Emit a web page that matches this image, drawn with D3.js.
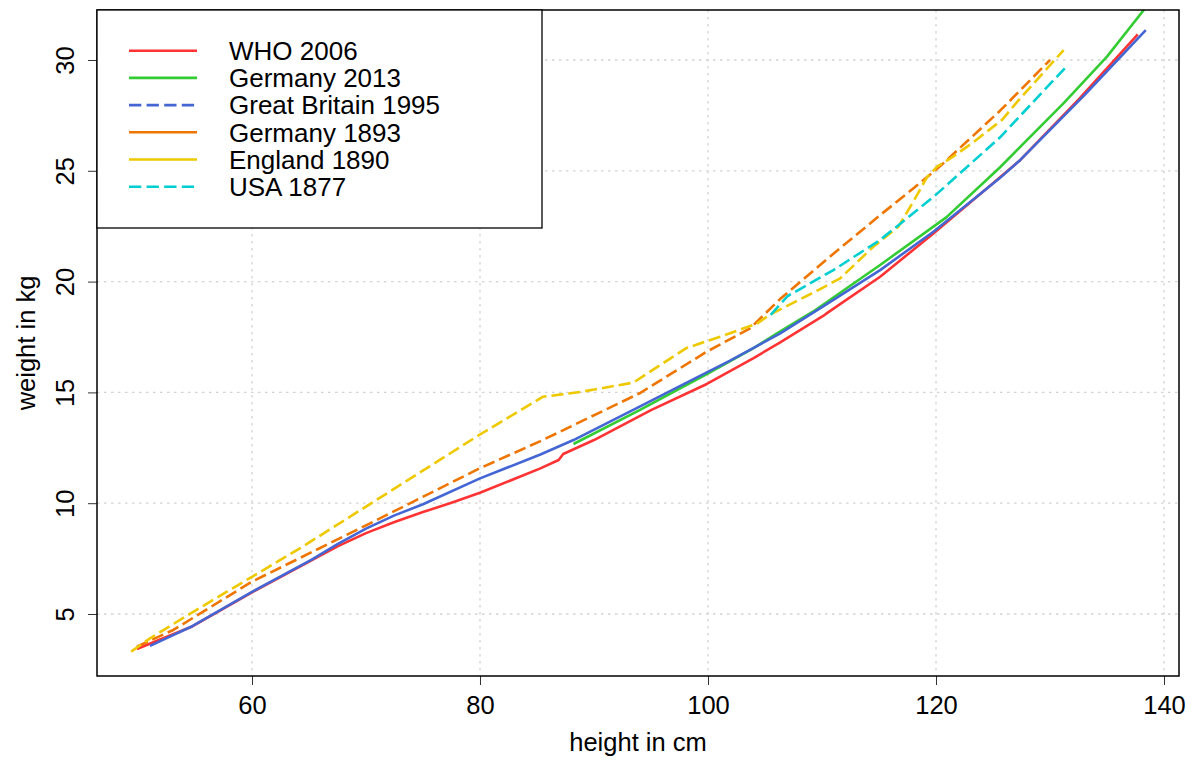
<!DOCTYPE html>
<html>
<head>
<meta charset="utf-8">
<script src="https://cdn.jsdelivr.net/npm/d3@7"></script>
<style>
    body { margin: 0; background: #fff; }
    text { font-family: "Liberation Sans", Arial, sans-serif; fill: #000; }
</style>
</head>
<body>
<svg id="chart" width="1192" height="760"></svg>
<script>
// growth reference curves, weight (kg) against height (cm)
const whoHeight = [49.9, 54.8, 60, 65.3, 67.5, 70, 72.5, 75, 77.5, 80, 85.3, 86.9, 87.3, 90, 95, 99.9, 104, 106.3, 110.1, 110.5, 115.1, 119.8, 125, 127.4, 132.6, 137.7];
const whoWeight = [3.42, 4.45, 5.98, 7.44, 8.05, 8.65, 9.15, 9.6, 10.02, 10.47, 11.57, 11.95, 12.22, 12.85, 14.2, 15.38, 16.55, 17.25, 18.45, 18.6, 20.22, 22.18, 24.44, 25.49, 28.27, 31.16];

const ger2013Height = [88.2, 94, 99.9, 104, 106.3, 109.2, 115.1, 120.9, 125.6, 131.2, 135, 138.6];
const ger2013Weight = [12.67, 14.2, 15.83, 17.0, 17.74, 18.64, 20.75, 22.9, 25.15, 28.05, 30.15, 32.5];

const gb1995Height = [51.05, 54.8, 60, 65.2, 67.5, 70, 72.5, 75, 80, 85.3, 88.2, 94, 99.9, 101.9, 106.3, 110, 115.1, 119.8, 125.6, 127.4, 133, 138.4];
const gb1995Weight = [3.56, 4.46, 6.0, 7.44, 8.15, 8.85, 9.45, 9.95, 11.12, 12.2, 12.85, 14.36, 15.9, 16.42, 17.65, 18.85, 20.52, 22.26, 24.67, 25.49, 28.4, 31.35];

const ger1893Height = [49.9, 53.1, 60, 70, 80, 85.3, 94, 99.9, 103.7, 106.3, 110.4, 115.1, 118, 120.35, 125.6, 130];
const ger1893Weight = [3.52, 4.28, 6.46, 9.0, 11.58, 12.8, 14.96, 16.84, 17.89, 19.2, 21.0, 23.0, 24.2, 25.2, 27.7, 30.0];

const eng1890Height = [49.4, 51.05, 54.85, 60, 64.2, 80, 85.5, 88.8, 93.45, 98.1, 101, 104.3, 105.4, 109.8, 111.6, 114.5, 116.7, 118, 119.2, 120.1, 121.5, 123.3, 125.8, 127.1, 131.2];
const eng1890Weight = [3.3, 3.9, 5.1, 6.68, 7.96, 13.1, 14.8, 15.02, 15.44, 17.0, 17.5, 18.1, 18.5, 19.65, 20.15, 21.57, 22.48, 23.6, 24.7, 25.19, 25.64, 26.3, 27.3, 28.1, 30.45];

const usa1877Height = [105.5, 107, 111, 115.1, 119.8, 125.6, 131.3];
const usa1877Weight = [18.5, 19.35, 20.52, 21.88, 23.83, 26.5, 29.63];

const seriesNames = ["WHO 2006", "Germany 2013", "Great Britain 1995", "Germany 1893", "England 1890", "USA 1877"];
const xTicks = [60, 80, 100, 120, 140];
const yTicks = [5, 10, 15, 20, 25, 30];

// styles
const colors = ["#ff3333", "#33cc33", "#4466d4", "#ee7600", "#eec900", "#00ced1"];
const plotDashed = [false, false, false, true, true, true];
const legendDashed = [false, false, true, false, false, true];
const dash = "12,5";
const fontSize = 25.5;
const legendFontSize = 26;

const plot = {left: 97, right: 1179, top: 10, bottom: 676};

const svg = d3.select("#chart");

const x = d3.scaleLinear().domain([46.404, 141.316]).range([plot.left, plot.right]);
const y = d3.scaleLinear().domain([2.202, 32.256]).range([plot.bottom, plot.top]);

svg.append("defs").append("clipPath")
    .attr("id", "plotClip")
    .append("rect")
    .attr("x", plot.left)
    .attr("y", plot.top)
    .attr("width", plot.right - plot.left)
    .attr("height", plot.bottom - plot.top);

// dotted grid at the tick positions
const grid = svg.append("g").attr("class", "grid");
grid.selectAll(".vgrid")
    .data(xTicks)
    .enter().append("line")
    .attr("x1", d => x(d)).attr("x2", d => x(d))
    .attr("y1", plot.top).attr("y2", plot.bottom);
grid.selectAll(".hgrid")
    .data(yTicks)
    .enter().append("line")
    .attr("x1", plot.left).attr("x2", plot.right)
    .attr("y1", d => y(d)).attr("y2", d => y(d));
grid.selectAll("line")
    .attr("stroke", "#d3d3d3")
    .attr("stroke-width", 1.3)
    .attr("stroke-dasharray", "2.5,4.5");

const series = [
    [whoHeight, whoWeight],
    [ger2013Height, ger2013Weight],
    [gb1995Height, gb1995Weight],
    [ger1893Height, ger1893Weight],
    [eng1890Height, eng1890Weight],
    [usa1877Height, usa1877Weight]
].map(function(pair, i){
    return {
        name: seriesNames[i],
        points: pair[0].map((h, j) => [h, pair[1][j]])
    };
});

const line = d3.line()
    .x(d => x(d[0]))
    .y(d => y(d[1]));

svg.append("g")
    .attr("clip-path", "url(#plotClip)")
    .selectAll("path")
    .data(series)
    .enter().append("path")
    .attr("d", d => line(d.points))
    .attr("fill", "none")
    .attr("stroke", (d, i) => colors[i])
    .attr("stroke-width", 2.6)
    .attr("stroke-linejoin", "round")
    .attr("stroke-dasharray", (d, i) => plotDashed[i] ? dash : null);

// axes
const xAxis = svg.append("g")
    .attr("transform", "translate(0," + plot.bottom + ")")
    .call(d3.axisBottom(x).tickValues(xTicks).tickSize(9).tickPadding(11).tickFormat(d3.format("d")));
const yAxis = svg.append("g")
    .attr("transform", "translate(" + plot.left + ",0)")
    .call(d3.axisLeft(y).tickValues(yTicks).tickSize(9).tickFormat(d3.format("d")));

[xAxis, yAxis].forEach(function(axis){
    axis.select(".domain").remove();
    axis.selectAll(".tick line").attr("stroke", "#333").attr("stroke-width", 1);
    axis.selectAll("text")
        .attr("font-size", fontSize)
        .attr("font-family", "Liberation Sans, Arial, sans-serif")
        .attr("fill", "#000");
});
yAxis.selectAll(".tick text")
    .attr("x", 0)
    .attr("dy", 0)
    .attr("text-anchor", "middle")
    .attr("transform", "translate(-23.5,0) rotate(-90)");

svg.append("text")
    .attr("x", (plot.left + plot.right) / 2)
    .attr("y", 751)
    .attr("text-anchor", "middle")
    .attr("font-size", fontSize)
    .text("height in cm");

svg.append("text")
    .attr("transform", "translate(35," + (plot.top + plot.bottom) / 2 + ") rotate(-90)")
    .attr("text-anchor", "middle")
    .attr("font-size", fontSize)
    .text("weight in kg");

// plot frame
svg.append("rect")
    .attr("x", plot.left)
    .attr("y", plot.top)
    .attr("width", plot.right - plot.left)
    .attr("height", plot.bottom - plot.top)
    .attr("fill", "none")
    .attr("stroke", "#000")
    .attr("stroke-width", 1.5);

// legend
const legend = svg.append("g").attr("class", "legend");
legend.append("rect")
    .attr("x", plot.left)
    .attr("y", plot.top)
    .attr("width", 445)
    .attr("height", 218)
    .attr("fill", "#fff")
    .attr("stroke", "#000")
    .attr("stroke-width", 1.3);

const rowGap = 27.2, firstRow = 50.7;
const items = legend.selectAll(".item")
    .data(seriesNames)
    .enter().append("g")
    .attr("class", "item")
    .attr("transform", (d, i) => "translate(0," + (firstRow + i * rowGap) + ")");
items.append("line")
    .attr("x1", 129).attr("x2", 197)
    .attr("y1", 0).attr("y2", 0)
    .attr("stroke", (d, i) => colors[i])
    .attr("stroke-width", 2.6)
    .attr("stroke-dasharray", (d, i) => legendDashed[i] ? "12.3,5.3" : null);
items.append("text")
    .attr("x", 229)
    .attr("y", 0)
    .attr("dy", "0.36em")
    .attr("font-size", legendFontSize)
    .text(d => d);
</script>
</body>
</html>
